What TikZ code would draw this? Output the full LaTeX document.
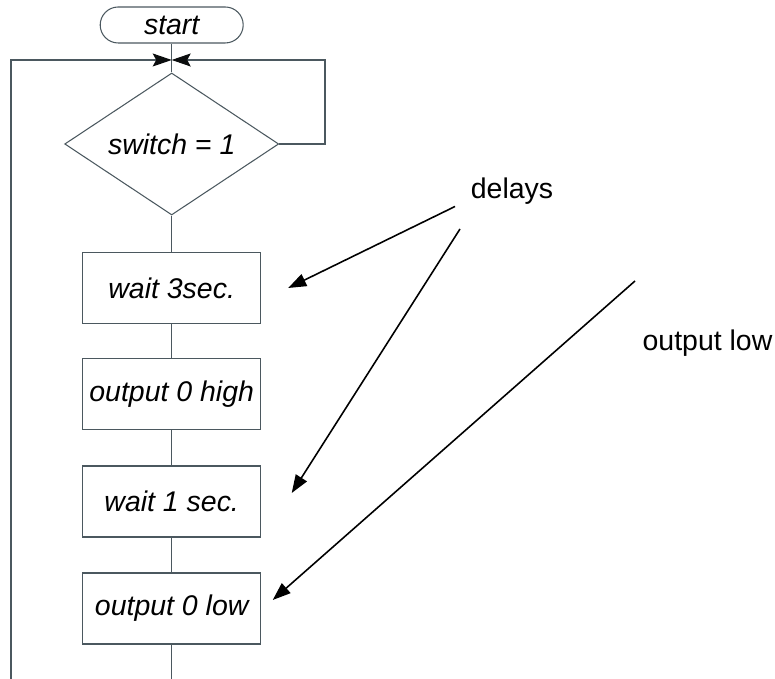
\documentclass[tikz,border=0pt]{standalone}
\usepackage{fontspec}
\setmainfont{Liberation Sans}
\usetikzlibrary{shapes.geometric,arrows.meta}
\definecolor{LC}{RGB}{75,88,95}
\newcommand{\diagfont}{\fontsize{16.2}{19}\selectfont}
\tikzset{
    TE/.style ={rectangle, rounded corners=0.36cm, minimum width = 2.86cm, minimum height = 0.72cm, draw=LC, line width=0.6pt, font=\diagfont\itshape},
    DI/.style ={diamond, shape aspect=1.5, minimum width = 4.28cm, minimum height = 2.84cm, inner sep=0pt, draw=LC, line width=0.6pt, font=\diagfont\itshape},
    RA/.style ={rectangle, minimum width = 3.56cm, minimum height = 1.42cm, draw=LC, line width=0.6pt, font=\diagfont\itshape},
    FL/.style ={draw=LC, line width=0.6pt},
    JN/.style ={-{Stealth[length=0.38cm,width=0.26cm,inset=0.07cm,color=black!85!LC]}},
    AR/.style ={-{Triangle[length=0.36cm,width=0.26cm]}, line width=0.9pt}}
\begin{document}
\begin{tikzpicture}[every node/.style={font=\diagfont}]
        \useasboundingbox (0,0) rectangle (15.5,13.58);
        \node[TE] (1) at(3.434,13.08){start};
        \node[DI] (2) at(3.434,10.7){switch = 1};
        \node[RA] (3) at(3.434,7.82){wait 3sec.};
        \node[RA] (4) at(3.434,5.70){output 0 high};
        \node[RA] (5) at(3.434,3.55){wait 1 sec.};
        \node[RA] (6) at(3.434,1.41){output 0 low};
        \node (7) at(10.24,9.75){delays};
        \node (8) at(14.15,6.72){output low};
        \coordinate (j) at(3.434,12.38);
        \coordinate (r) at(6.5,12.38);
        \coordinate (b1) at(3.434,0);
        \coordinate (b2) at(0.22,0);
        \draw[FL] (1) -- (2);
        \draw[FL] (2) -- (3);
        \draw[FL] (3) -- (4);
        \draw[FL] (4) -- (5);
        \draw[FL] (5) -- (6);
        \draw[FL] (6) -- (b1);
        \draw[FL,JN] (b2) |- (j);
        \draw[FL,JN] (2.east) -| (r) -- (j);
        \draw[AR] ([shift={(-1.14,-0.30)}]7.center) -- ([xshift=0.54cm]3.east);
        \draw[AR] ([shift={(-1.04,-0.75)}]7.center) -- ([shift={(0.61,0.17)}]5.east);
        \draw[AR] ([shift={(-1.45,1.24)}]8.center) -- ([shift={(0.23,0.17)}]6.east);
    \end{tikzpicture}
\end{document}
